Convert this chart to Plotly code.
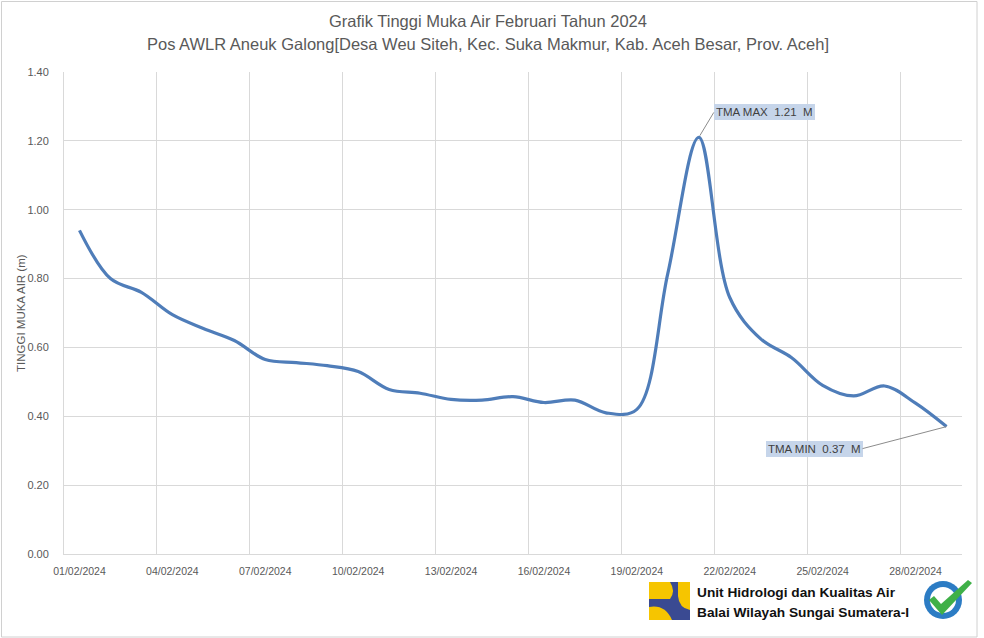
import plotly.graph_objects as go
import pandas as pd

# ---------------- data ----------------
dates = pd.date_range("2024-02-01", "2024-02-29", freq="D")
date_labels = [d.strftime("%d/%m/%Y") for d in dates]
day_index = list(range(1, len(dates) + 1))
tma = [0.94, 0.80, 0.76, 0.695, 0.655, 0.62, 0.565, 0.556, 0.547, 0.53,
       0.478, 0.467, 0.449, 0.447, 0.457, 0.44, 0.447, 0.41, 0.42, 0.815,
       1.21, 0.745, 0.625, 0.57, 0.49, 0.459, 0.488, 0.438, 0.37]
label_step = 3
y_ticks = [0.0, 0.2, 0.4, 0.6, 0.8, 1.0, 1.2, 1.4]

title1 = "Grafik Tinggi Muka Air Februari Tahun 2024"
title2 = "Pos AWLR Aneuk Galong[Desa Weu Siteh, Kec. Suka Makmur, Kab. Aceh Besar, Prov. Aceh]"
ytitle = "TINGGI MUKA AIR (m)"
org1 = "Unit Hidrologi dan Kualitas Air"
org2 = "Balai Wilayah Sungai Sumatera-I"

# ---------------- layout geometry ----------------
W, H = 984, 638
L, R, T, B = 64, 22, 72, 84
PW, PH = W - L - R, H - T - B


def px(x):
    return (x - L) / PW


def py(y):
    return (H - B - y) / PH


FONT = "Liberation Sans, Arial, sans-serif"
GRID = "#d9d9d9"
TXT = "#595959"
LINE = "#4f7db9"

fig = go.Figure()
fig.add_trace(go.Scatter(
    x=day_index, y=tma, mode="lines",
    line=dict(color=LINE, width=3.2, shape="spline", smoothing=1.0),
    hoverinfo="skip", showlegend=False,
))

tick_idx = day_index[::label_step]
tick_txt = date_labels[::label_step]
grid_vals = [i - 0.5 for i in tick_idx] + [day_index[-1] + 0.5]

fig.update_xaxes(
    range=[day_index[0] - 0.5, day_index[-1] + 0.5],
    tickmode="array", tickvals=tick_idx, ticktext=tick_txt,
    showgrid=False, zeroline=False,
    showline=True, linecolor=GRID, linewidth=1,
    ticks="", ticklabelstandoff=7, automargin=False,
    tickfont=dict(family=FONT, size=10.5, color=TXT),
    minor=dict(tickmode="array", tickvals=grid_vals, showgrid=True,
               gridcolor=GRID, gridwidth=1, ticks=""),
    fixedrange=True,
)
fig.update_yaxes(
    range=[0, 1.4], tickmode="array", tickvals=y_ticks,
    ticktext=[f"{v:.2f}" for v in y_ticks],
    showgrid=True, gridcolor=GRID, gridwidth=1, zeroline=False,
    showline=True, linecolor=GRID, linewidth=1,
    ticks="", ticklabelstandoff=12, automargin=False,
    tickfont=dict(family=FONT, size=11, color=TXT),
    fixedrange=True,
)

anns = []
# titles
anns.append(dict(text=title1, xref="paper", yref="paper", x=px(488), y=py(21.5),
                 xanchor="center", yanchor="middle", showarrow=False,
                 font=dict(family=FONT, size=16.5, color=TXT)))
anns.append(dict(text=title2, xref="paper", yref="paper", x=px(488), y=py(44),
                 xanchor="center", yanchor="middle", showarrow=False,
                 font=dict(family=FONT, size=16.5, color=TXT)))
# y-axis title
anns.append(dict(text=ytitle, xref="paper", yref="paper", x=px(21), y=py(313),
                 xanchor="center", yanchor="middle", showarrow=False, textangle=-90,
                 font=dict(family=FONT, size=11.5, color=TXT)))

# max / min labels
imax = max(range(len(tma)), key=lambda i: tma[i])
imin = min(range(len(tma)), key=lambda i: tma[i])
nb = "\u00a0"
anns.append(dict(
    x=day_index[imax], y=tma[imax], xref="x", yref="y",
    text=f"TMA MAX{nb}{nb}{tma[imax]:.2f}{nb}{nb}M",
    showarrow=True, arrowhead=0, arrowwidth=1, arrowcolor="#8c8c8c",
    ax=15, ay=-25, xanchor="left", yanchor="middle", standoff=2,
    bgcolor="#c6d5ea", borderpad=2, borderwidth=0,
    font=dict(family=FONT, size=11.5, color="#404040"),
))
anns.append(dict(
    x=day_index[imin], y=tma[imin], xref="x", yref="y",
    text=f"TMA MIN{nb}{nb}{tma[imin]:.2f}{nb}{nb}M",
    showarrow=True, arrowhead=0, arrowwidth=1, arrowcolor="#8c8c8c",
    ax=-84, ay=22, xanchor="right", yanchor="middle", standoff=0,
    bgcolor="#c6d5ea", borderpad=2, borderwidth=0,
    font=dict(family=FONT, size=11.5, color="#404040"),
))

# organisation text
anns.append(dict(text=f"<b>{org1}</b>", xref="paper", yref="paper", x=px(695), y=py(592.5),
                 xanchor="left", yanchor="middle", showarrow=False,
                 font=dict(family=FONT, size=13.7, color="#111111")))
anns.append(dict(text=f"<b>{org2}</b>", xref="paper", yref="paper", x=px(695), y=py(612),
                 xanchor="left", yanchor="middle", showarrow=False,
                 font=dict(family=FONT, size=13.7, color="#111111")))

shapes = []
# outer border
shapes.append(dict(type="rect", xref="paper", yref="paper",
                   x0=px(1.5), x1=px(977), y0=py(1.5), y1=py(637),
                   line=dict(color="#d0d0d0", width=1), fillcolor="rgba(0,0,0,0)", layer="below"))

# PU logo (blue square with yellow shapes)
BLUE = "#3a4a92"
YEL = "#f6c500"
shapes.append(dict(type="rect", xref="paper", yref="paper",
                   x0=px(649), x1=px(690), y0=py(620), y1=py(582),
                   fillcolor=BLUE, line=dict(width=0)))
shapes.append(dict(type="path", xref="paper", yref="paper",
                   path=(f"M {px(649)},{py(582)} L {px(670)},{py(582)} "
                         f"Q {px(676)},{py(591)} {px(670)},{py(599)} "
                         f"L {px(649)},{py(599)} Z"),
                   fillcolor=YEL, line=dict(width=0)))
shapes.append(dict(type="path", xref="paper", yref="paper",
                   path=(f"M {px(678)},{py(582)} L {px(690)},{py(582)} L {px(690)},{py(610)} "
                         f"Q {px(679)},{py(608)} {px(678)},{py(596)} Z"),
                   fillcolor=YEL, line=dict(width=0)))
shapes.append(dict(type="path", xref="paper", yref="paper",
                   path=(f"M {px(649)},{py(607)} Q {px(665)},{py(604)} {px(672)},{py(620)} "
                         f"L {px(649)},{py(620)} Z"),
                   fillcolor=YEL, line=dict(width=0)))

# ISO badge
shapes.append(dict(type="circle", xref="paper", yref="paper",
                   x0=px(924), x1=px(962), y0=py(619), y1=py(581),
                   fillcolor="#2c7cc4", line=dict(width=0)))
shapes.append(dict(type="circle", xref="paper", yref="paper",
                   x0=px(930), x1=px(956), y0=py(613), y1=py(587),
                   fillcolor="#ffffff", line=dict(width=0)))
shapes.append(dict(type="path", xref="paper", yref="paper",
                   path=(f"M {px(929)},{py(600)} L {px(934)},{py(596)} L {px(941)},{py(604)} "
                         f"L {px(968)},{py(580)} L {px(972)},{py(583)} L {px(942)},{py(615)} Z"),
                   fillcolor="#3fb048", line=dict(width=0)))

fig.update_layout(
    width=W, height=H,
    margin=dict(l=L, r=R, t=T, b=B),
    paper_bgcolor="white", plot_bgcolor="white",
    annotations=anns, shapes=shapes,
    showlegend=False,
)

fig.write_html("out.html", config=dict(displayModeBar=False))
